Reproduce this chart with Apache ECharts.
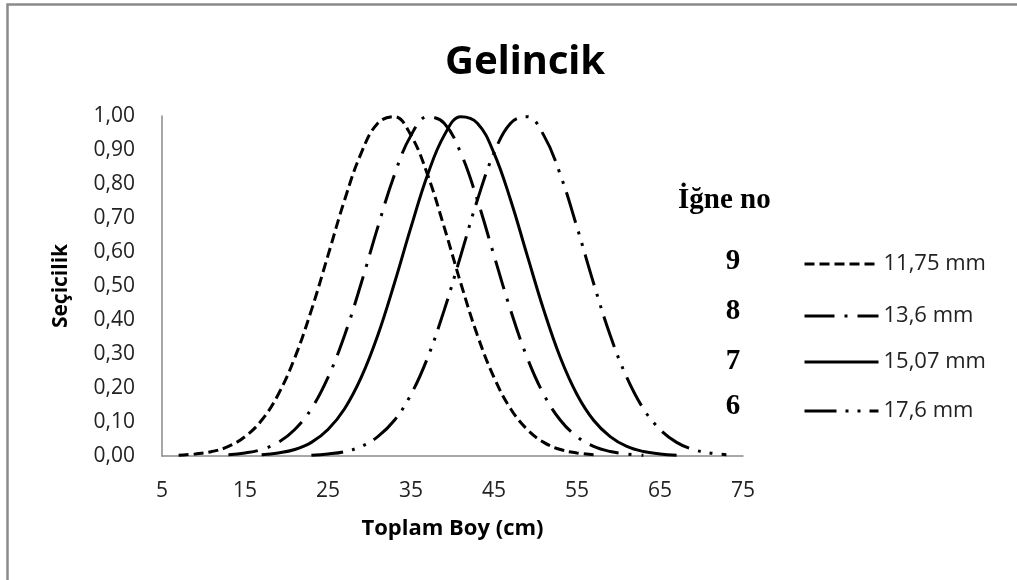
<!DOCTYPE html>
<html>
<head>
<meta charset="utf-8">
<script src="https://cdn.jsdelivr.net/npm/echarts@6/dist/echarts.min.js"></script>
<style>
    html, body { margin: 0; padding: 0; background: #fff; }
    #chart { width: 1017px; height: 580px; }
</style>
</head>
<body>
<div id="chart"></div>
<script>
    // boy (cm) noktaları
    var boy = [7, 9, 11, 13, 15, 17, 19, 21, 23, 25, 27, 29, 31, 33, 35, 37, 39, 41,
               43, 45, 47, 49, 51, 53, 55, 57, 59, 61, 63, 65, 67, 69, 71, 73];
    // seçicilik değerleri
    var igne9 = [0.002, 0.006, 0.013, 0.028, 0.057, 0.105, 0.181, 0.289, 0.429, 0.590, 0.753, 0.891, 0.979, 0.998, 0.943, 0.827, 0.673, 0.508,
                 0.355, 0.231, 0.139, 0.078, 0.040, 0.019, 0.009, 0.004, null, null, null, null, null, null, null, null];
    var igne8 = [null, null, null, 0.004, 0.009, 0.019, 0.040, 0.078, 0.139, 0.231, 0.355, 0.508, 0.673, 0.827, 0.943, 0.998, 0.979, 0.891,
                 0.753, 0.590, 0.429, 0.289, 0.181, 0.105, 0.057, 0.028, 0.013, 0.006, 0.002, null, null, null, null, null];
    var igne7 = [null, null, null, null, null, 0.004, 0.009, 0.019, 0.040, 0.078, 0.139, 0.231, 0.355, 0.508, 0.673, 0.827, 0.943, 0.998,
                 0.979, 0.891, 0.753, 0.590, 0.429, 0.289, 0.181, 0.105, 0.057, 0.028, 0.013, 0.006, 0.002, null, null, null];
    var igne6 = [null, null, null, null, null, null, null, null, 0.002, 0.006, 0.013, 0.028, 0.057, 0.105, 0.181, 0.289, 0.429, 0.590,
                 0.753, 0.891, 0.979, 0.998, 0.943, 0.827, 0.673, 0.508, 0.355, 0.231, 0.139, 0.078, 0.040, 0.019, 0.009, 0.004];
    var xTicks = [5, 15, 25, 35, 45, 55, 65, 75];
    var names = ['11,75 mm', '13,6 mm', '15,07 mm', '17,6 mm'];
    var igneNo = ['9', '8', '7', '6'];

    function pairs(ys) {
        var out = [];
        ys.forEach(function (v, i) {
            if (v !== null) out.push([boy[i], v]);
        });
        return out;
    }

    var dashes = [[10, 5], [30, 10, 3, 10], null, [32, 9, 3, 9, 3, 9]];
    var allY = [igne9, igne8, igne7, igne6];
    var legendY = [261, 313, 359, 408];
    var numY = [262, 312, 362, 407];

    var series = [];
    var legends = [];
    allY.forEach(function (ys, i) {
        series.push({
            name: names[i],
            type: 'line',
            smooth: 0.4,
            symbol: 'none',
            data: pairs(ys),
            lineStyle: {
                color: '#000',
                width: 3,
                type: dashes[i] ? dashes[i] : 'solid'
            }
        });
        legends.push({
            data: [names[i]],
            left: 803,
            top: legendY[i] - 8,
            itemWidth: 74,
            itemHeight: 16,
            padding: 0,
            selectedMode: false,
            itemStyle: { opacity: 0 },
            lineStyle: { width: 3, color: '#000' },
            textStyle: { fontFamily: 'Open Sans', fontSize: 22, color: '#222' }
        });
    });

    var graphics = [{
        type: 'rect',
        shape: { x: 7.5, y: 4.5, width: 1100, height: 700 },
        style: { fill: 'none', stroke: '#8a8a8a', lineWidth: 2.5 },
        silent: true
    }, {
        type: 'text',
        left: 678,
        top: 186,
        style: { text: 'İğne no', font: 'bold 29px "Liberation Serif"', fill: '#000' }
    }];
    igneNo.forEach(function (n, i) {
        graphics.push({
            type: 'text',
            x: 733,
            y: numY[i],
            style: {
                text: n, font: 'bold 29px "Liberation Serif"', fill: '#000',
                align: 'center', verticalAlign: 'middle'
            }
        });
    });

    var myChart = echarts.init(document.getElementById('chart'));
    var option = {
        backgroundColor: '#fff',
        animation: false,
        title: {
            text: 'Gelincik',
            left: 520,
            top: 38,
            textAlign: 'center',
            textStyle: { fontFamily: 'Noto Sans', fontWeight: 'bold', fontSize: 40, color: '#000' }
        },
        legend: legends,
        grid: { left: 162, top: 116, right: 274, bottom: 124 },
        xAxis: {
            type: 'value',
            min: 5,
            max: 75,
            name: 'Toplam Boy (cm)',
            nameLocation: 'middle',
            nameGap: 62,
            nameTextStyle: { fontFamily: 'Open Sans', fontWeight: 'bold', fontSize: 22, color: '#000' },
            axisLine: { lineStyle: { color: '#8a8a8a', width: 1.5 } },
            axisTick: { show: false },
            splitLine: { show: false },
            axisLabel: {
                customValues: xTicks,
                margin: 25,
                fontFamily: 'Open Sans',
                fontSize: 21,
                color: '#222'
            }
        },
        yAxis: {
            type: 'value',
            min: 0,
            max: 1,
            interval: 0.1,
            name: 'Seçicilik',
            nameLocation: 'middle',
            nameGap: 90,
            nameTextStyle: { fontFamily: 'Open Sans', fontWeight: 'bold', fontSize: 21, color: '#000' },
            axisLine: { show: true, lineStyle: { color: '#8a8a8a', width: 1.5 } },
            axisTick: { show: false },
            splitLine: { show: false },
            axisLabel: {
                margin: 27,
                fontFamily: 'Open Sans',
                fontSize: 21,
                color: '#222',
                formatter: function (v) { return v.toFixed(2).replace('.', ','); }
            }
        },
        graphic: graphics,
        series: series
    };
    myChart.setOption(option);
</script>
</body>
</html>
